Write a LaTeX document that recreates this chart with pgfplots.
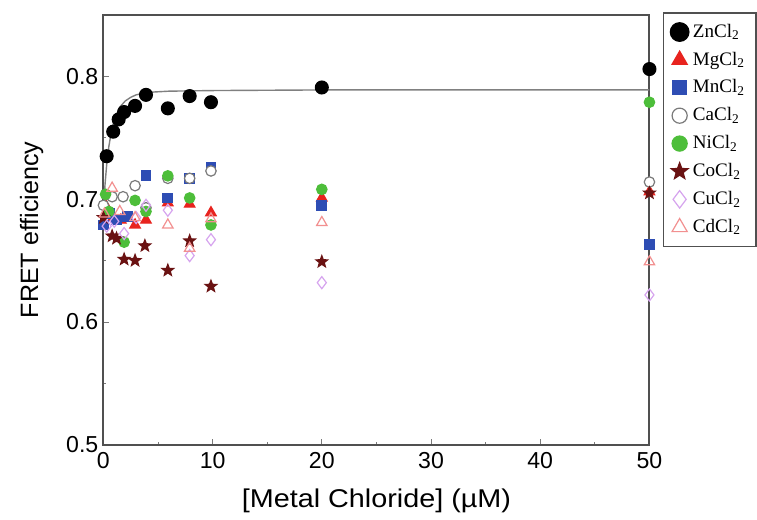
\documentclass[border=0pt]{standalone}
\usepackage{pgfplots}
\pgfplotsset{compat=1.18}
\usepackage{fontspec}
\setmainfont{Liberation Sans}
\newfontfamily\xlabfont{Liberation Sans}[FakeStretch=1.12]
\newfontfamily\legfont{Liberation Serif}
\usetikzlibrary{plotmarks}

\definecolor{mgred}{HTML}{E8231E}
\definecolor{mnblue}{HTML}{2E4DB4}
\definecolor{cagray}{HTML}{7A7A7A}
\definecolor{nigreen}{HTML}{4DBE3A}
\definecolor{cored}{HTML}{6A1212}
\definecolor{cuviolet}{HTML}{D6A4EE}
\definecolor{cdpink}{HTML}{F29090}
\definecolor{framegray}{HTML}{505050}

% filled five-pointed star
\pgfdeclareplotmark{fstar}{%
  \pgfpathmoveto{\pgfpointpolar{90}{\pgfplotmarksize}}%
  \pgfpathlineto{\pgfpointpolar{126}{0.42\pgfplotmarksize}}%
  \pgfpathlineto{\pgfpointpolar{162}{\pgfplotmarksize}}%
  \pgfpathlineto{\pgfpointpolar{198}{0.42\pgfplotmarksize}}%
  \pgfpathlineto{\pgfpointpolar{234}{\pgfplotmarksize}}%
  \pgfpathlineto{\pgfpointpolar{270}{0.42\pgfplotmarksize}}%
  \pgfpathlineto{\pgfpointpolar{306}{\pgfplotmarksize}}%
  \pgfpathlineto{\pgfpointpolar{342}{0.42\pgfplotmarksize}}%
  \pgfpathlineto{\pgfpointpolar{18}{\pgfplotmarksize}}%
  \pgfpathlineto{\pgfpointpolar{54}{0.42\pgfplotmarksize}}%
  \pgfpathclose\pgfusepathqfillstroke}

\begin{document}
\begin{tikzpicture}
\begin{axis}[
  name=main,
  scale only axis, width=272pt, height=214pt,
  xmin=0, xmax=50, ymin=0.5, ymax=0.85,
  xtick={0,10,...,50}, minor xtick={5,15,...,45},
  ytick={0.5,0.6,0.7,0.8}, minor ytick={0.55,0.65,0.75},
  yticklabel style={/pgf/number format/fixed, /pgf/number format/precision=1,
    /pgf/number format/fixed zerofill, xshift=1pt},
  xticklabel style={yshift=-0.5pt},
  /pgf/number format/assume math mode=true,
  tick align=inside, xtick pos=bottom, ytick pos=left,
  major tick length=3pt, minor tick length=1.5pt,
  tick style={color=cagray, thin},
  axis line style={color=framegray, line width=1pt},
  tick label style={font=\fontsize{11.5}{13}\selectfont},
  xlabel={[Metal Chloride] (µM)}, ylabel={FRET efficiency},
  xlabel style={font=\xlabfont\fontsize{12.8}{14}\selectfont, yshift=-3pt},
  ylabel style={font=\fontsize{12.5}{14}\selectfont, yshift=4.5pt},
  legend cell align=left,
  legend style={at={(1,1)}, anchor=north west, xshift=6.5pt, yshift=1.5pt,
    font=\legfont\fontsize{9.5}{10}\selectfont, draw=framegray, line width=0.8pt,
    row sep=1.8pt, inner xsep=3.5pt, inner ysep=3.5pt},
  legend image post style={scale=1.45},
  every axis plot/.append style={only marks, line width=0.6pt},
]
% fitted binding curve
\addplot[no marks, sharp plot, color=gray, line width=0.7pt, forget plot] coordinates {
 (0,0.690) (0.15,0.712) (0.3,0.728) (0.5,0.743) (0.75,0.756) (1,0.765) (1.5,0.775)
 (2,0.780) (2.5,0.783) (3,0.785) (4,0.787) (6,0.788) (10,0.7885) (20,0.789) (50,0.789)};

\addplot[mark=*, mark size=3.2pt, color=black, fill=black] coordinates {
 (0.3,0.735) (0.9,0.755) (1.4,0.765) (1.9,0.771) (2.9,0.776) (3.9,0.785)
 (5.9,0.774) (7.9,0.784) (9.85,0.779) (20,0.791) (50,0.806)};
\addlegendentry{ZnCl\textsubscript{2}}

\addplot[mark=triangle*, mark size=3pt, color=mgred, fill=mgred] coordinates {
 (0.2,0.695) (0.9,0.685) (1.6,0.683) (2.9,0.679) (3.9,0.683) (5.9,0.697)
 (7.9,0.696) (9.85,0.689) (20,0.701) (50,0.706)};
\addlegendentry{MgCl\textsubscript{2}}

\addplot[mark=square*, mark size=2.4pt, color=mnblue, fill=mnblue] coordinates {
 (0,0.679) (0.6,0.688) (1.2,0.683) (2.2,0.686) (3.9,0.719) (5.9,0.701)
 (7.9,0.717) (9.85,0.726) (20,0.695) (50,0.663)};
\addlegendentry{MnCl\textsubscript{2}}

\addplot[mark=*, mark size=2.6pt, color=cagray, fill=white] coordinates {
 (0,0.695) (0.8,0.702) (1.8,0.702) (2.9,0.711) (3.9,0.693) (5.9,0.717)
 (7.9,0.717) (9.85,0.723) (50,0.714)};
\addlegendentry{CaCl\textsubscript{2}}

\addplot[mark=*, mark size=2.6pt, color=nigreen, fill=nigreen] coordinates {
 (0.2,0.704) (0.5,0.690) (1.9,0.665) (2.9,0.699) (3.9,0.690) (5.9,0.719)
 (7.9,0.701) (9.85,0.679) (20,0.708) (50,0.779)};
\addlegendentry{NiCl\textsubscript{2}}

\addplot[mark=fstar, mark size=3pt, color=cored, fill=cored] coordinates {
 (0,0.685) (0.8,0.670) (1.2,0.668) (1.9,0.651) (2.9,0.650) (3.8,0.662)
 (5.9,0.642) (7.9,0.666) (9.85,0.629) (20,0.649) (50,0.705)};
\addlegendentry{CoCl\textsubscript{2}}

\addplot[mark=diamond, mark size=3pt, color=cuviolet] coordinates {
 (0.3,0.678) (1,0.682) (1.9,0.672) (3,0.685) (3.9,0.695) (5.9,0.691)
 (7.9,0.654) (9.85,0.667) (20,0.632) (50,0.622)};
\addlegendentry{CuCl\textsubscript{2}}

\addplot[mark=triangle, mark size=3pt, color=cdpink] coordinates {
 (0.1,0.688) (0.8,0.709) (1.5,0.690) (2.9,0.685) (5.9,0.679) (7.9,0.660)
 (9.85,0.684) (20,0.681) (50,0.649)};
\addlegendentry{CdCl\textsubscript{2}}
\end{axis}
% white margins round the frame, as in the reference
\path ([yshift=7.5pt]main.north west) -- ([yshift=7.5pt]main.north east);
\path ([xshift=-51.5pt]main.south west) -- ([xshift=-51.5pt]main.north west);
\end{tikzpicture}
\end{document}
